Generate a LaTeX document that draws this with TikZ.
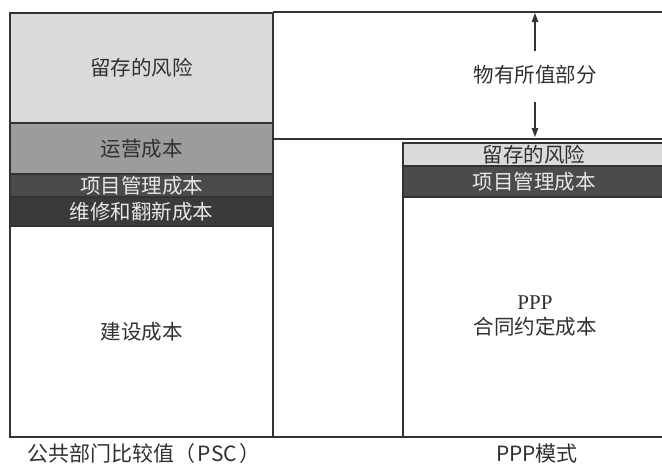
\documentclass[tikz,border=0pt]{standalone}
\usepackage{fontspec}
\setmainfont{Liberation Serif}
\newfontfamily\cjk{Noto Sans CJK SC}
\usetikzlibrary{arrows.meta}
\definecolor{linec}{HTML}{333333}
\definecolor{lightg}{HTML}{DADADA}
\definecolor{midg}{HTML}{9C9C9C}
\definecolor{darkA}{HTML}{4B4B4B}
\definecolor{darkB}{HTML}{3A3A3A}
\definecolor{txt}{HTML}{303030}
\definecolor{txtlight}{HTML}{E8E8E8}
\begin{document}
\begin{tikzpicture}[x=1pt,y=-1pt,
  band/.style={draw=linec, line width=1.3pt, anchor=north west, inner sep=0pt, outer sep=0pt,
    text=txt, font=\cjk\fontsize{20.5}{24}\selectfont, align=center},
  sep/.style={draw=linec, line width=1.5pt},
  arr/.style={draw=linec, line width=1.1pt, -{Triangle[length=9pt,width=6.5pt]}},
  lab/.style={text=txt, font=\cjk\fontsize{21}{24}\selectfont, inner sep=0pt}]
\useasboundingbox (0,0) rectangle (662,464);
% left column (PSC)
\node[band, fill=lightg, minimum width=263pt, minimum height=110pt] (L1) at (10,13) {留存的风险};
\node[band, fill=midg, minimum width=263pt, minimum height=51pt] (L2) at (10,123) {运营成本};
\node[band, fill=darkA, text=txtlight, minimum width=263pt, minimum height=24pt] (L3) at (10,174) {项目管理成本};
\node[band, fill=darkB, text=txtlight, minimum width=263pt, minimum height=29pt] (L4) at (10,197) {维修和翻新成本};
\node[band, fill=white, minimum width=263pt, minimum height=211pt] (L5) at (10,226) {建设成本};
% right column (PPP)
\node[band, fill=lightg, minimum width=262pt, minimum height=23pt] (R1) at (403,143) {留存的风险};
\node[band, fill=darkA, text=txtlight, minimum width=262pt, minimum height=31pt] (R2) at (403,166) {项目管理成本};
\node[band, fill=white, minimum width=262pt, minimum height=240pt] (R3) at (403,197) {};
\node[lab, font=\fontsize{21}{24}\selectfont, text=txt] (ppp) at (535,303) {PPP};
\node[band, anchor=center, draw=none] (ppc) at (535,327) {合同约定成本};
% value for money region
\coordinate (t1) at (273,12);
\coordinate (t2) at (662,12);
\coordinate (m1) at (273,139);
\coordinate (m2) at (662,139);
\coordinate (b1) at (273,437);
\coordinate (b2) at (662,437);
\draw[sep] (t1) -- (t2);
\draw[sep] (m1) -- (m2);
\draw[sep] (b1) -- (b2);
\node[band, anchor=center, draw=none] (V) at (535,75) {物有所值部分};
\coordinate (vt) at (535,13);
\coordinate (vb) at (535,137);
\draw[arr] ([yshift=15pt]V.north) -- (vt);
\draw[arr] ([yshift=-17pt]V.south) -- (vb);
% captions
\node[lab] (c1) at (144,454) {公共部门比较值（\kern3pt PSC\kern3pt）};
\node[lab] (c2) at (537,454) {PPP模式};
\end{tikzpicture}
\end{document}
